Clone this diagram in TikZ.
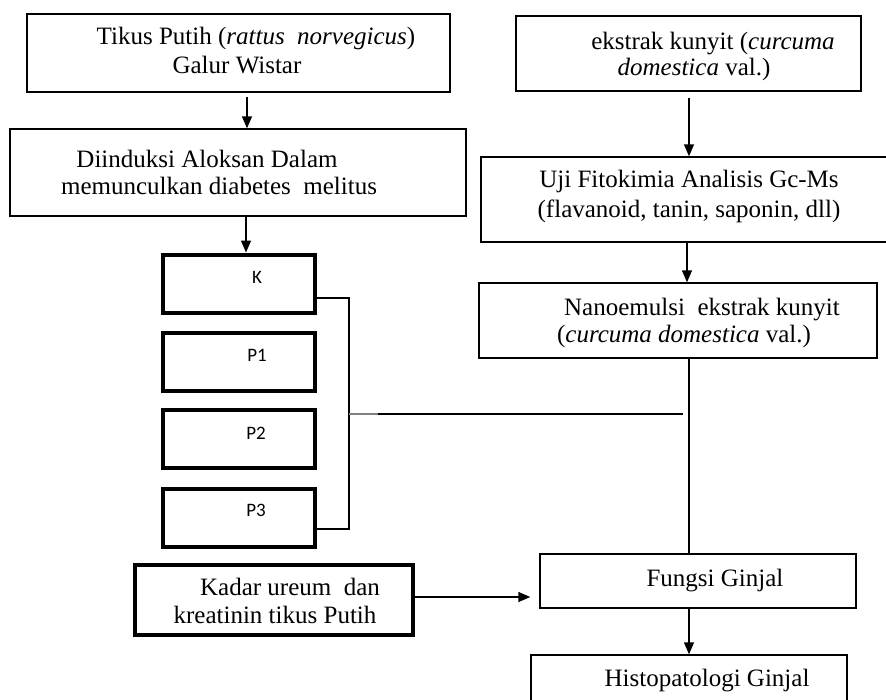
\documentclass[tikz,border=0pt]{standalone}
\usepackage{fontspec}
\setmainfont{Liberation Serif}
\newfontfamily\calibri{Carlito}
\usetikzlibrary{arrows.meta}
\begin{document}
\begin{tikzpicture}[x=1pt,y=-1pt,
  box/.style={draw, line width=1.4pt, inner sep=0pt},
  tbox/.style={draw, line width=4pt, inner sep=0pt, minimum width=152pt, minimum height=58pt},
  txt/.style={anchor=base, inner sep=0pt, font=\fontsize{25}{29}\selectfont},
  lbl/.style={anchor=base, inner sep=0pt, font=\calibri\fontsize{19}{22}\selectfont},
  arr/.style={line width=1.4pt, -{Triangle[length=12pt,width=10pt]}},
  ln/.style={line width=1.4pt}]
\useasboundingbox (0,0) rectangle (886,699);
\clip (0,0) rectangle (886,699);
% boxes
\node[box, minimum width=423pt, minimum height=78pt] (tikus) at (238.5,53) {};
\node[box, minimum width=456pt, minimum height=87pt] (diinduksi) at (238,172.5) {};
\node[box, minimum width=345pt, minimum height=75pt] (ekstrak) at (688.5,53.5) {};
\node[box, minimum width=419pt, minimum height=85pt] (uji) at (690.5,199.5) {};
\node[box, minimum width=398pt, minimum height=75pt] (nano) at (678,320.5) {};
\node[tbox] (K) at (238.5,283.5) {};
\node[tbox] (P1) at (238.5,362) {};
\node[tbox] (P2) at (238.5,438.5) {};
\node[tbox] (P3) at (238.5,517.5) {};
\node[tbox, minimum width=278pt, minimum height=70pt] (kadar) at (274,600) {};
\node[box, minimum width=316pt, minimum height=54pt] (fungsi) at (698,581) {};
\node[box, minimum width=316pt, minimum height=90pt] (histo) at (689,700) {};
% texts
\node[txt] (t1a) at (256,44) {Tikus Putih (\textit{rattus\ \ norvegicus})};
\node[txt] (t1b) at (237,73) {Galur Wistar};
\node[txt] (t2a) at (207,167) {Diinduksi Aloksan Dalam};
\node[txt] (t2b) at (219,194) {memunculkan diabetes\ \ melitus};
\node[txt] (t3a) at (713,49) {ekstrak kunyit (\textit{curcuma}};
\node[txt] (t3b) at (694,75) {\textit{domestica} val.)};
\node[txt] (t4a) at (689,187) {Uji Fitokimia Analisis Gc-Ms};
\node[txt] (t4b) at (689,217) {(flavanoid, tanin, saponin, dll)};
\node[txt] (t5a) at (702,315) {Nanoemulsi\ \ ekstrak kunyit};
\node[txt] (t5b) at (684,342) {(\textit{curcuma domestica} val.)};
\node[lbl] (lK) at (257,283) {K};
\node[lbl] (lP1) at (257,361) {P1};
\node[lbl] (lP2) at (256,439) {P2};
\node[lbl] (lP3) at (256,516) {P3};
\node[txt] (t6a) at (290,595) {Kadar ureum\ \ dan};
\node[txt] (t6b) at (275,623) {kreatinin tikus Putih};
\node[txt] (t7) at (715,586) {Fungsi Ginjal};
\node[txt] (t8) at (707,686) {Histopatologi Ginjal};
% helper coordinates
\coordinate (xa) at (247,0);
\coordinate (xb) at (246,0);
\coordinate (xc) at (689,0);
\coordinate (xd) at (687,0);
\coordinate (ya) at (0,597);
\coordinate (bt) at (349,298);
\coordinate (bb) at (349,529);
\coordinate (hm) at (349,414);
\coordinate (hg) at (378,414);
\coordinate (he) at (683,414);
% connectors
\draw[arr, shorten <=4pt] (tikus.south -| xa) -- (diinduksi.north -| xa);
\draw[arr] (diinduksi.south -| xb) -- (K.north -| xb);
\draw[arr, shorten <=6pt] (ekstrak.south -| xc) -- (uji.north -| xc);
\draw[arr] (uji.south -| xd) -- (nano.north -| xd);
\draw[line width=1.1pt] (K.east |- bt) -- (bt) -- (bb) -- (P3.east |- bb);
\draw[gray, line width=2pt] (hm) -- (hg);
\draw[line width=2.6pt] (hg) -- (he);
\draw[ln] (nano.south -| xc) -- (fungsi.north -| xc);
\draw[arr, shorten >=9pt] (kadar.east |- ya) -- (fungsi.west |- ya);
\draw[arr] (fungsi.south -| xc) -- (histo.north -| xc);
\end{tikzpicture}
\end{document}
